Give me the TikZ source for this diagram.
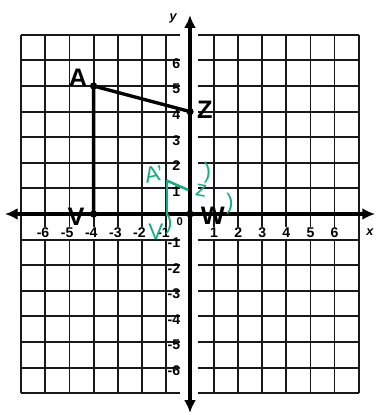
\documentclass[tikz,border=0pt]{standalone}
\usepackage{fontspec}
\setmainfont{Liberation Sans}
\usetikzlibrary{arrows.meta}
\definecolor{penink}{RGB}{20,175,120}
\begin{document}
\begin{tikzpicture}[x=0.6025cm,y=0.64cm,
  gridline/.style={line width=1.3pt,black!90},
  axisline/.style={line width=2.2pt,{Latex[length=3.2mm,width=3mm]}-{Latex[length=3.2mm,width=3mm]}},
  num/.style={font=\fontsize{10}{10}\selectfont\bfseries,inner sep=0.8pt},
  ptname/.style={font=\fontsize{18}{18}\selectfont\bfseries,inner sep=0pt},
  penline/.style={penink,line width=1.8pt,line cap=round},
  pentext/.style={penink,font=\fontsize{16}{16}\selectfont,inner sep=0pt}]
\useasboundingbox (-7.884,-7.852) rectangle (7.967,8.36);
% grid, broken along the y axis
\foreach \i in {-7,...,7} {
  \draw[gridline] (-7,\i) -- (-0.4,\i);
  \draw[gridline] (0.33,\i) -- (7,\i);
}
\foreach \i in {-7,...,-1,1,2,...,7} \draw[gridline] (\i,-7) -- (\i,7);
% axes
\coordinate (xl) at (-7.68,0);
\coordinate (xr) at (7.68,0);
\coordinate (yb) at (0,-7.77);
\coordinate (yt) at (0,7.77);
\draw[axisline] (xl) -- (xr);
\draw[axisline] (yb) -- (yt);
\node[font=\fontsize{9}{9}\selectfont\bfseries\itshape] (xlab) at (7.47,-0.7) {x};
\node[font=\fontsize{9}{9}\selectfont\bfseries\itshape] (ylab) at (-0.7,7.65) {y};
% numbers
\foreach \i in {1,...,6} {
  \node[num,fill=white] (xp\i) at (\i,-0.74) {\i};
  \node[num,fill=white] (xm\i) at (-\i,-0.74) {\llap{-}\i};
  \node[num,anchor=east] (yp\i) at (-0.35,\i-0.12) {\i};
  \node[num,anchor=east] (ym\i) at (-0.35,-\i-0.12) {-\i};
}
\node[font=\fontsize{8}{8}\selectfont\bfseries] (orig) at (-0.42,-0.3) {0};
% figure
\coordinate (A) at (-4,5);
\coordinate (Z) at (0,4);
\coordinate (W) at (0,0);
\coordinate (V) at (-4,0);
\draw[line width=2.4pt,line join=round] (A) -- (Z) -- (W) -- (V) -- cycle;
\foreach \p in {A,Z,W,V} \fill (\p) circle (2.6pt);
\node[ptname] (labA) at (-4.65,5.31) {A};
\node[ptname] (labZ) at (0.62,4.06) {Z};
\node[ptname] (labV) at (-4.73,-0.1) {V};
\node[ptname] (labW) at (0.95,-0.06) {W};
% green notes
\coordinate (Ap) at (-0.95,1.3);
\coordinate (Zp) at (-0.1,0.95);
\coordinate (Vp) at (-0.95,-0.05);
\draw[penline] (Ap) -- (Zp);
\draw[penline] (Ap) -- (Vp);
\node[pentext,rotate=12] (nA) at (-1.5,1.55) {A'};
\node[pentext,rotate=-10] (nZ) at (0.46,0.9) {z};
\node[pentext] (nZq) at (0.72,1.62) {)};
\node[pentext] (nW) at (1.65,0.42) {)};
\node[pentext] (nV) at (-1.42,-0.68) {V};
\node[pentext] (nVq) at (-0.88,-0.36) {)};
\end{tikzpicture}
\end{document}
